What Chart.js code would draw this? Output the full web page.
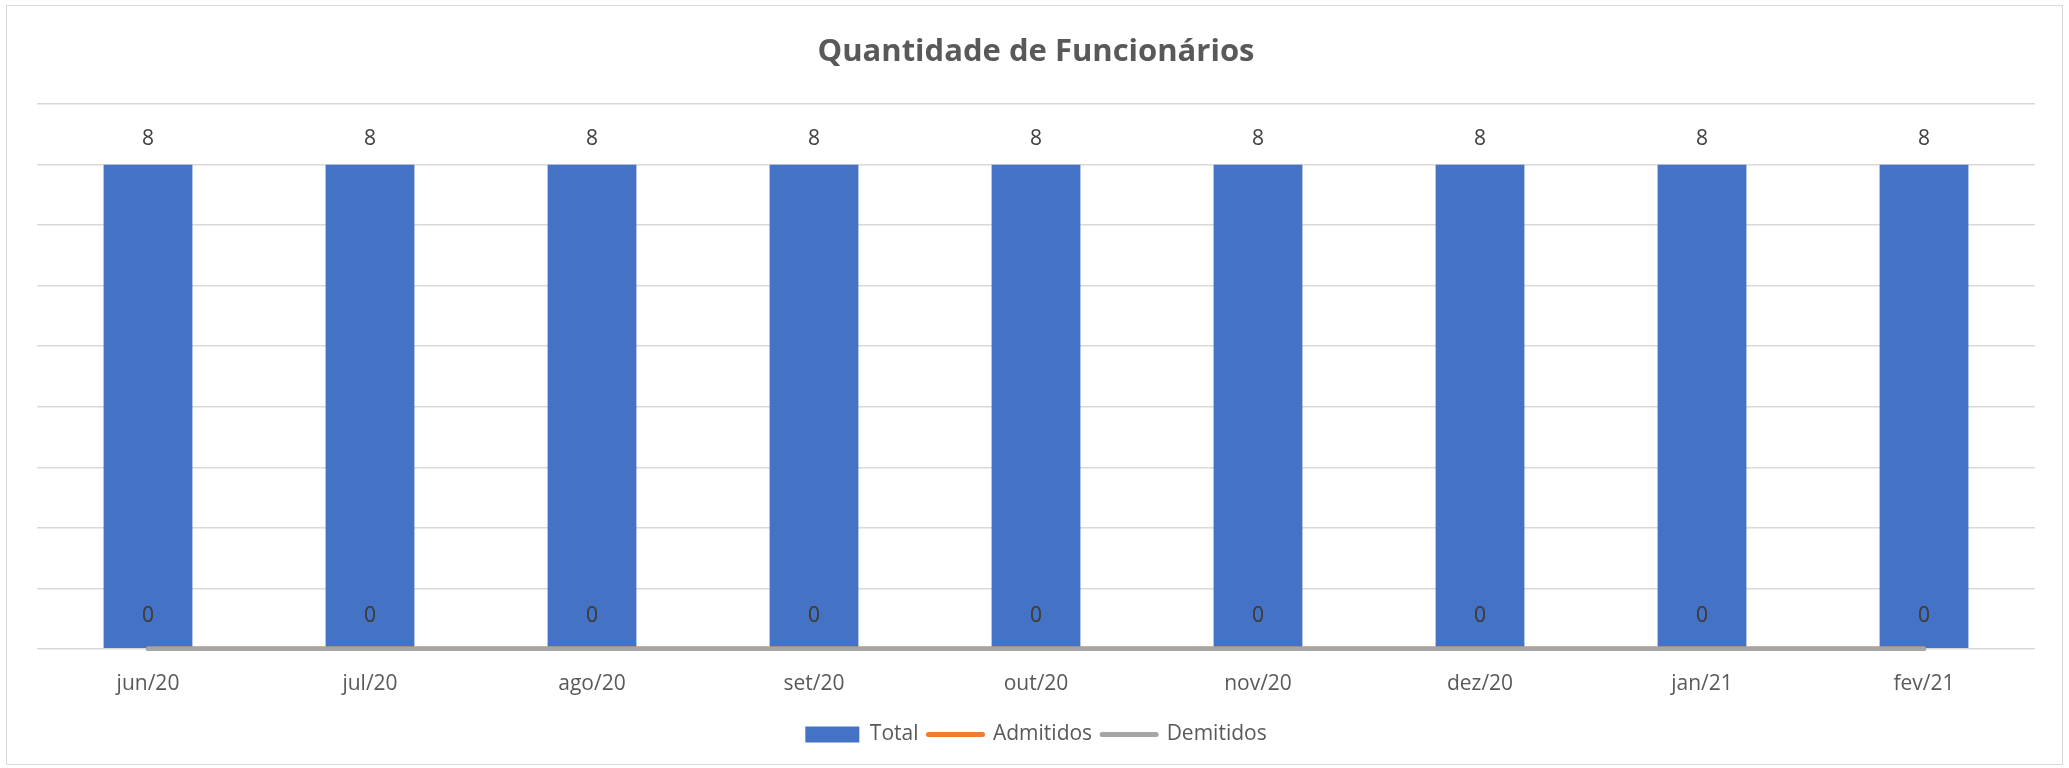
<!DOCTYPE html>
<html>
<head>
<meta charset="utf-8">
<script src="https://cdn.jsdelivr.net/npm/chart.js@4.4.0/dist/chart.umd.min.js"></script>
<style>
  html, body { margin: 0; padding: 0; background: #ffffff; overflow: hidden; }
  #wrap { position: relative; width: 2069px; height: 768px; }
  #c { position: absolute; left: 0; top: 0; }
  #frame { position: absolute; left: 6px; top: 5px; width: 2057px; height: 760px; border: 1px solid #d9d9d9; box-sizing: border-box; pointer-events: none; }
</style>
</head>
<body>
<div id="wrap">
  <canvas id="c" width="2069" height="768"></canvas>
  <div id="frame"></div>
</div>
<script>
const categories = ['jun/20', 'jul/20', 'ago/20', 'set/20', 'out/20', 'nov/20', 'dez/20', 'jan/21', 'fev/21'];
const totalValues = [8, 8, 8, 8, 8, 8, 8, 8, 8];
const admitidosValues = [0, 0, 0, 0, 0, 0, 0, 0, 0];
const demitidosValues = [0, 0, 0, 0, 0, 0, 0, 0, 0];
const titleText = 'Quantidade de Funcionários';
const FONT = "'Open Sans', 'Noto Sans', sans-serif";

const dataLabels = {
  id: 'dataLabels',
  afterDatasetsDraw(chart) {
    const ctx = chart.ctx;
    ctx.save();
    ctx.font = '21px ' + FONT;
    ctx.fillStyle = '#404040';
    ctx.textAlign = 'center';
    ctx.textBaseline = 'middle';
    chart.data.datasets.forEach((ds, i) => {
      const meta = chart.getDatasetMeta(i);
      if (meta.hidden) return;
      meta.data.forEach((el, j) => {
        const off = ds.type === 'line' ? 33 : 26;
        ctx.fillText(String(ds.data[j]), el.x, el.y - off);
      });
    });
    ctx.restore();
  }
};

new Chart(document.getElementById('c'), {
  data: {
    labels: categories,
    datasets: [
      { type: 'bar', label: 'Total', data: totalValues, backgroundColor: '#4472C4', borderWidth: 0,
        barPercentage: 0.4, categoryPercentage: 1.0, order: 2 },
      { type: 'line', label: 'Admitidos', data: admitidosValues, borderColor: '#ED7D31', backgroundColor: '#ED7D31',
        borderWidth: 4.5, pointRadius: 0, borderCapStyle: 'round', tension: 0, order: 1, clip: false },
      { type: 'line', label: 'Demitidos', data: demitidosValues, borderColor: '#A5A5A5', backgroundColor: '#A5A5A5',
        borderWidth: 4.5, pointRadius: 0, borderCapStyle: 'round', tension: 0, order: 0, clip: false }
    ]
  },
  options: {
    responsive: false,
    animation: false,
    devicePixelRatio: 1,
    layout: { padding: { left: 37, right: 34, top: 0, bottom: 13 } },
    plugins: {
      title: {
        display: true, text: titleText, color: '#595959',
        font: { family: FONT, size: 31, weight: 'bold' },
        padding: { top: 34, bottom: 33 }
      },
      legend: {
        display: true, position: 'bottom',
        labels: {
          color: '#595959',
          font: { family: FONT, size: 21 },
          usePointStyle: true, pointStyleWidth: 54, boxHeight: 16, padding: 10,
          generateLabels: (chart) => chart.data.datasets.map((ds, i) => ({
            text: ds.label,
            fillStyle: ds.type === 'line' ? ds.borderColor : ds.backgroundColor,
            strokeStyle: ds.type === 'line' ? ds.borderColor : ds.backgroundColor,
            lineWidth: ds.type === 'line' ? 5 : 0,
            lineCap: 'round',
            pointStyle: ds.type === 'line' ? 'line' : 'rect',
            fontColor: '#595959',
            hidden: !chart.isDatasetVisible(i),
            datasetIndex: i
          }))
        }
      },
      tooltip: { enabled: false }
    },
    scales: {
      x: {
        grid: { display: false },
        border: { display: false },
        ticks: { color: '#595959', font: { family: FONT, size: 21 }, padding: 15 },
        afterFit: (scale) => { scale.height += 2; }
      },
      y: {
        min: 0, max: 9,
        ticks: { display: false, stepSize: 1 },
        grid: { color: '#d9d9d9', lineWidth: 1.5, drawTicks: false },
        border: { display: false }
      }
    }
  },
  plugins: [dataLabels]
});
</script>
</body>
</html>
